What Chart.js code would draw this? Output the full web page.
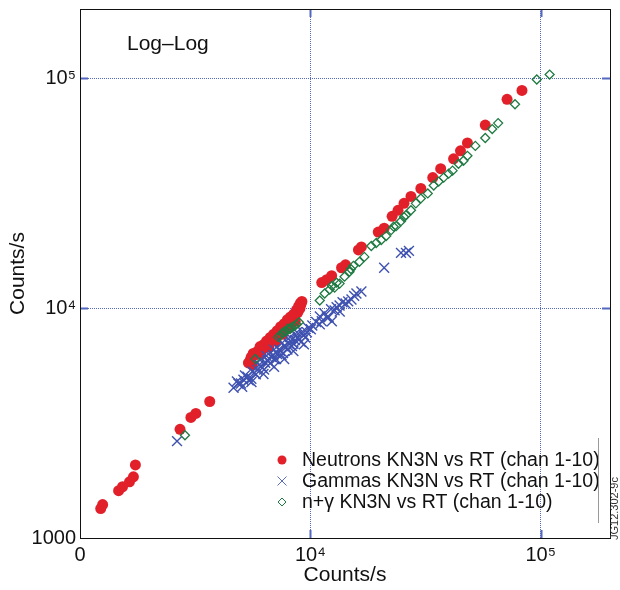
<!DOCTYPE html>
<html lang="en">
<head>
  <meta charset="UTF-8">
  <title>Log-Log KN3N vs RT</title>
  <script src="https://cdn.jsdelivr.net/npm/chart.js"></script>
  <style>
    html, body {
      margin: 0;
      padding: 0;
      background: #ffffff;
    }
    .chart-box {
      position: relative;
      width: 620px;
      height: 590px;
    }
  </style>
</head>
<body>
  <div class="chart-box">
    <canvas id="logChart" width="620" height="590"></canvas>
  </div>

  <script>
    // Neutrons KN3N vs RT (chan 1-10)
    const neutronX = [1230, 1254, 1471, 1530, 1640, 1706, 1740, 2718, 3030, 3184, 3658,
      5385, 5546, 5769, 5944, 6184, 6370, 6562, 6827, 7033, 7318, 7539, 7844, 8082, 8325, 8575, 8834, 9012, 9101, 9192,
      5500, 5650, 5850, 6050, 6280, 6460, 6700, 6930, 7180, 7430, 7700, 7950, 8200, 8450, 8700, 8900, 9050,
      5600, 6100, 6600, 7100, 7600, 8100, 8600,
      11207, 11777, 12374, 13663, 14217, 16172, 16660, 19714, 20920, 22646, 24029, 25509, 27345, 30185, 34001,
      36800, 41868, 44868, 48091, 57470, 71467, 82950];
    const neutronY = [1343, 1398, 1606, 1671, 1756, 1845, 2078, 2971, 3346, 3482, 3924,
      5776, 6133, 6255, 6509, 6705, 6907, 7116, 7330, 7551, 7857, 8095, 8337, 8678, 8939, 9210, 9583, 9970, 10373, 10688,
      6000, 6350, 6450, 6800, 6950, 7200, 7450, 7700, 7980, 8300, 8550, 8900, 9150, 9400, 9800, 10200, 10500,
      5650, 6300, 6750, 7200, 7700, 8200, 8750,
      12909, 13298, 13834, 14979, 15430, 17906, 18446, 21410, 22276, 25088, 26635, 28546, 30595, 33135, 36950,
      40408, 44617, 48306, 52298, 62517, 80930, 88510];

    // Gammas KN3N vs RT (chan 1-10)
    const gammaX = [2638, 4641, 4875, 5123, 5331, 5546, 5713, 5886, 6004, 6184, 6370, 6562, 6761, 6964, 7174, 7393,
      7614, 7844, 8082, 8325, 8575, 8834, 9101, 9376, 9661, 10050, 11207, 12013, 12748, 13396, 14217, 15087,
      15852, 16660, 20920, 24753, 26011, 26795,
      4800, 5000, 5200, 5400, 5600, 5800, 6100, 6300, 6500, 6700, 6900, 7100, 7300, 7500, 7700, 7950,
      8200, 8450, 8700, 8950, 9250, 9500, 9800, 10200, 10600, 11000, 11500, 12300, 13000, 13800, 14600, 15500,
      6050, 6450, 6960, 7540, 8160, 8750, 5060, 5550, 6260, 6960, 7700, 8440, 9380,
      10990, 11800, 12400, 13420];
    const gammaY = [2638, 4506, 4690, 4880, 5026, 4928, 5230, 5389, 5662, 5497, 5776, 5891, 6133, 6010, 6317, 6509,
      6381, 6771, 6974, 6838, 7258, 7403, 7116, 7627, 7857, 8095, 8765, 9119, 9775, 10271, 10478, 10901,
      11571, 11803, 14979, 17386, 17386, 17734,
      4800, 4700, 5100, 4850, 5300, 5150, 5600, 5400, 5950, 5750, 6250, 6000, 6600, 6250, 6850, 6600,
      7200, 7000, 7600, 7300, 7900, 7450, 8200, 8400, 8700, 9200, 9500, 9900, 10100, 10600, 10700, 11300,
      5950, 6200, 6600, 7050, 7480, 7850, 4550, 4770, 5170, 5550, 6000, 6500, 6960,
      8500, 9100, 8770, 9650];

    // n+gamma KN3N vs RT (chan 1-10)
    const sumX = [2856, 5770, 7248, 7539, 7844, 8162, 8492, 8923, 10987, 11543, 12133, 12748, 13396, 14077, 14791,
      15387, 16332, 17160, 18391, 19322, 20316, 21348, 22427, 23568, 24753, 26011, 27345, 28722, 30185, 32355,
      34339, 36074, 37917, 39838, 41448, 43980, 46215, 48091, 52050, 57470, 61600, 65370, 77380, 96200, 109400,
      7400, 7700, 8000, 8300, 8700, 12400, 13000, 15000, 23000, 25500];
    const sumY = [2799, 6010, 7476, 7780, 7935, 8095, 8337, 8678, 10794, 11571, 12039, 12280, 12779, 13698, 14394,
      15276, 15898, 16703, 18630, 19195, 19775, 20575, 21839, 22721, 23878, 25336, 26635, 28546, 29998, 31528,
      34135, 35510, 36950, 38454, 39620, 42462, 43740, 45970, 50760, 54950, 60090, 63790, 77030, 98700, 103700,
      7600, 7900, 8150, 8250, 8500, 12500, 12900, 14800, 22600, 24900];

    const tickValues = [1000, 10000, 100000];
    const legendLabels = ['Neutrons KN3N vs RT (chan 1-10)', 'Gammas KN3N vs RT (chan 1-10)', 'n+\u03b3 KN3N vs RT (chan 1-10)'];

    const FONT = '"Liberation Sans", Arial, Helvetica, sans-serif';
    const RED = '#e2202a';
    const BLUE = '#3f52b0';
    const GREEN = '#1f7a42';
    const GRID = '#5468c0';

    function toPoints(xs, ys) {
      return xs.map((x, i) => ({ x: x, y: ys[i] }));
    }

    function powerLabel(v) {
      const sup = { 4: '\u2074', 5: '\u2075' };
      return '10' + sup[Math.round(Math.log10(v))];
    }

    // border, inner ticks, label and legend
    const decorations = {
      id: 'decorations',
      afterDraw(chart) {
        const ctx = chart.ctx;
        const area = chart.chartArea;
        const xs = chart.scales.x;
        const ys = chart.scales.y;
        ctx.save();

        // blue tick marks pointing into the plot
        ctx.strokeStyle = GRID;
        ctx.lineWidth = 2;
        [10000, 100000].forEach(v => {
          const px = Math.round(xs.getPixelForValue(v)) + 0.5;
          const py = Math.round(ys.getPixelForValue(v)) + 0.5;
          ctx.beginPath();
          ctx.moveTo(px, area.bottom); ctx.lineTo(px, area.bottom - 8);
          ctx.moveTo(px, area.top); ctx.lineTo(px, area.top + 8);
          ctx.moveTo(area.left, py); ctx.lineTo(area.left + 8, py);
          ctx.moveTo(area.right, py); ctx.lineTo(area.right - 8, py);
          ctx.stroke();
        });

        // frame
        ctx.strokeStyle = '#111';
        ctx.lineWidth = 1;
        ctx.strokeRect(Math.round(area.left) + 0.5, Math.round(area.top) + 0.5,
          Math.round(area.right - area.left), Math.round(area.bottom - area.top));

        // panel label
        ctx.fillStyle = '#111';
        ctx.font = '21px ' + FONT;
        ctx.textBaseline = 'middle';
        ctx.textAlign = 'left';
        ctx.fillText('Log\u2013Log', area.left + 47, area.top + 35);

        // legend
        const lx = 282, ly0 = 460, step = 21;
        ctx.font = '19.5px ' + FONT;
        legendLabels.forEach((txt, i) => {
          const y = ly0 + i * step;
          ctx.fillStyle = '#111';
          ctx.fillText(txt, lx + 20, y + 1);
        });
        ctx.fillStyle = RED;
        ctx.beginPath();
        ctx.arc(lx, ly0, 4.5, 0, Math.PI * 2);
        ctx.fill();
        ctx.strokeStyle = '#5a6cc0';
        ctx.lineWidth = 1;
        ctx.beginPath();
        ctx.moveTo(lx - 4.5, ly0 + step - 4.5); ctx.lineTo(lx + 4.5, ly0 + step + 4.5);
        ctx.moveTo(lx + 4.5, ly0 + step - 4.5); ctx.lineTo(lx - 4.5, ly0 + step + 4.5);
        ctx.stroke();
        ctx.strokeStyle = GREEN;
        ctx.beginPath();
        const dy = ly0 + 2 * step;
        ctx.moveTo(lx - 4, dy); ctx.lineTo(lx, dy - 4); ctx.lineTo(lx + 4, dy); ctx.lineTo(lx, dy + 4);
        ctx.closePath();
        ctx.stroke();

        // thin gray rule and figure id at the right edge
        ctx.strokeStyle = '#9a9a9a';
        ctx.beginPath();
        ctx.moveTo(598.5, 438); ctx.lineTo(598.5, 523);
        ctx.stroke();
        ctx.translate(615, 540);
        ctx.rotate(-Math.PI / 2);
        ctx.fillStyle = '#333';
        ctx.font = '11px ' + FONT;
        ctx.textAlign = 'left';
        ctx.fillText('JG12.302-9c', 0, 0);
        ctx.restore();
      }
    };

    function scaleOptions(axis) {
      return {
        type: 'logarithmic',
        min: 1000,
        max: 200000,
        afterBuildTicks: scale => {
          scale.ticks = tickValues.map(v => ({ value: v }));
        },
        afterFit: scale => {
          if (axis === 'x') scale.height = 52;
          else scale.width = 80;
          scale.paddingTop = 0;
          scale.paddingBottom = 0;
          scale.paddingLeft = 0;
          scale.paddingRight = 0;
        },
        ticks: {
          autoSkip: false,
          maxRotation: 0,
          color: '#111',
          padding: axis === 'x' ? 5 : 4,
          font: { family: FONT, size: 20 },
          callback: v => {
            if (v === 1000) return axis === 'x' ? '0' : '1000';
            return powerLabel(v);
          }
        },
        grid: {
          drawTicks: false,
          lineWidth: 1,
          color: c => (c.tick && c.tick.value === 1000) ? 'rgba(0,0,0,0)' : GRID
        },
        border: { display: false, dash: [1, 1] },
        title: {
          display: true,
          text: 'Counts/s',
          color: '#111',
          font: { family: FONT, size: 21 },
          padding: axis === 'x' ? { top: 0, bottom: 2 } : { top: 6, bottom: 0 }
        }
      };
    }

    const ctx = document.getElementById('logChart').getContext('2d');
    const logChart = new Chart(ctx, {
      type: 'scatter',
      data: {
        datasets: [
          {
            label: legendLabels[0],
            data: toPoints(neutronX, neutronY),
            pointStyle: 'circle',
            pointRadius: 5.5,
            backgroundColor: RED,
            borderColor: RED,
            borderWidth: 0,
            order: 2
          },
          {
            label: legendLabels[1],
            data: toPoints(gammaX, gammaY),
            pointStyle: 'crossRot',
            pointRadius: 7,
            backgroundColor: BLUE,
            borderColor: BLUE,
            borderWidth: 1.4,
            order: 1
          },
          {
            label: legendLabels[2],
            data: toPoints(sumX, sumY),
            pointStyle: 'rectRot',
            pointRadius: 4.5,
            backgroundColor: 'rgba(255,255,255,0)',
            borderColor: GREEN,
            borderWidth: 1.3,
            order: 0
          }
        ]
      },
      options: {
        responsive: false,
        animation: false,
        layout: { padding: { top: 9, right: 10, left: 0, bottom: 0 } },
        plugins: {
          legend: { display: false },
          tooltip: { enabled: false }
        },
        scales: {
          x: scaleOptions('x'),
          y: scaleOptions('y')
        }
      },
      plugins: [decorations]
    });
  </script>
</body>
</html>
